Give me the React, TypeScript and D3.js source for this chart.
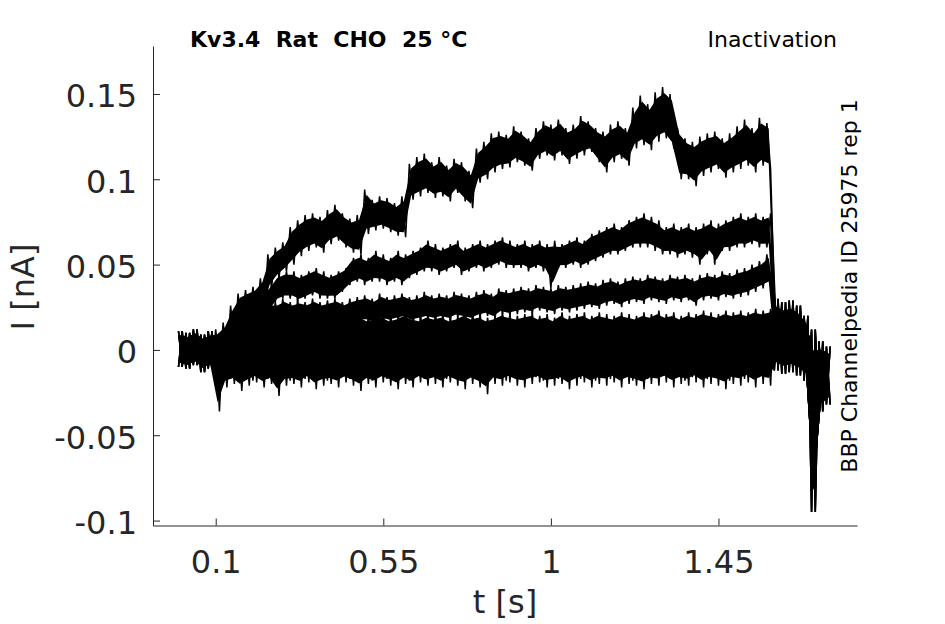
import { useEffect, useRef } from "react";
import * as d3 from "d3";

const binWidth = 0.02;
const preStart = 0;
const stepStart = 0.1;
const tailStart = 1.6;

const preHi = [0.011, 0.01, 0.012, 0.009, 0.011];
const preLo = [-0.01, -0.011, -0.009, -0.013, -0.011];

const traceAHi = [
  0.012, 0.016, 0.026, 0.033, 0.035, 0.037, 0.042, 0.056, 0.06, 0.063,
  0.072, 0.076, 0.079, 0.08, 0.078, 0.082, 0.085, 0.08, 0.077, 0.079,
  0.094, 0.088, 0.09, 0.089, 0.086, 0.09, 0.109, 0.113, 0.115, 0.11,
  0.113, 0.108, 0.112, 0.11, 0.105, 0.118, 0.122, 0.127, 0.128, 0.126,
  0.131, 0.128, 0.124, 0.13, 0.134, 0.132, 0.135, 0.13, 0.132, 0.137,
  0.134, 0.13, 0.128, 0.132, 0.134, 0.13, 0.142, 0.149, 0.144, 0.151,
  0.154, 0.15, 0.13, 0.124, 0.122, 0.125, 0.127, 0.128, 0.124, 0.127,
  0.131, 0.135, 0.13, 0.136, 0.133,
];
const traceALo = [
  -0.012, -0.006, 0.002, 0.013, 0.016, 0.018, 0.021, 0.036, 0.042, 0.046,
  0.05, 0.055, 0.058, 0.06, 0.057, 0.062, 0.064, 0.06, 0.057, 0.056,
  0.068, 0.07, 0.071, 0.069, 0.067, 0.066, 0.088, 0.09, 0.092, 0.089,
  0.09, 0.087, 0.092, 0.087, 0.083, 0.098, 0.1, 0.104, 0.106, 0.107,
  0.11, 0.108, 0.105, 0.112, 0.114, 0.111, 0.114, 0.109, 0.112, 0.114,
  0.116, 0.11, 0.104, 0.11, 0.112, 0.108, 0.118, 0.12, 0.117, 0.122,
  0.124, 0.118, 0.1, 0.1, 0.096, 0.102, 0.104, 0.106, 0.101, 0.104,
  0.106, 0.108, 0.104, 0.108, 0.106,
];

const traceBHi = [
  0.01, 0.012, 0.018, 0.024, 0.028, 0.03, 0.034, 0.038, 0.044, 0.046,
  0.046, 0.044, 0.046, 0.048, 0.046, 0.044, 0.046, 0.048, 0.054, 0.056,
  0.054, 0.058, 0.056, 0.054, 0.058, 0.056, 0.058, 0.06, 0.064, 0.062,
  0.06, 0.062, 0.064, 0.06, 0.062, 0.064, 0.062, 0.064, 0.066, 0.064,
  0.062, 0.064, 0.062, 0.064, 0.062, 0.064, 0.062, 0.064, 0.066, 0.064,
  0.068, 0.07, 0.072, 0.074, 0.072, 0.076, 0.078, 0.08, 0.078, 0.076,
  0.072, 0.074, 0.072, 0.074, 0.072, 0.074, 0.076, 0.074, 0.076, 0.078,
  0.08, 0.078, 0.08, 0.078, 0.08,
];
const traceBLo = [
  -0.012, -0.007, 0.0, 0.006, 0.01, 0.014, 0.018, 0.022, 0.028, 0.03,
  0.03, 0.028, 0.03, 0.032, 0.03, 0.03, 0.03, 0.034, 0.038, 0.04,
  0.038, 0.04, 0.04, 0.038, 0.04, 0.038, 0.042, 0.044, 0.046, 0.046,
  0.044, 0.046, 0.048, 0.044, 0.046, 0.048, 0.046, 0.048, 0.05, 0.048,
  0.048, 0.048, 0.046, 0.048, 0.046, 0.036, 0.048, 0.048, 0.05, 0.048,
  0.05, 0.052, 0.054, 0.056, 0.056, 0.058, 0.06, 0.06, 0.06, 0.058,
  0.056, 0.056, 0.054, 0.056, 0.054, 0.05, 0.056, 0.05, 0.058, 0.058,
  0.06, 0.06, 0.062, 0.06, 0.06,
];

const traceCHi = [
  0.008, 0.01, 0.014, 0.018, 0.022, 0.024, 0.026, 0.028, 0.028, 0.03,
  0.028, 0.029, 0.028, 0.03, 0.028, 0.029, 0.03, 0.028, 0.03, 0.031,
  0.032, 0.03, 0.033, 0.031, 0.032, 0.033, 0.031, 0.032, 0.034, 0.032,
  0.033, 0.032, 0.034, 0.033, 0.032, 0.034, 0.035, 0.033, 0.036, 0.035,
  0.036, 0.037, 0.036, 0.038, 0.037, 0.036, 0.038, 0.037, 0.038, 0.039,
  0.04, 0.039, 0.041, 0.042, 0.04, 0.042, 0.043, 0.042, 0.044, 0.043,
  0.042, 0.044, 0.043, 0.044, 0.042, 0.044, 0.045, 0.044, 0.046, 0.045,
  0.047, 0.048, 0.05, 0.052, 0.056,
];
const traceCLo = [
  -0.012, -0.008, -0.004, 0.0, 0.004, 0.006, 0.01, 0.012, 0.012, 0.014,
  0.012, 0.014, 0.013, 0.014, 0.012, 0.014, 0.015, 0.013, 0.014, 0.016,
  0.016, 0.015, 0.017, 0.016, 0.017, 0.018, 0.016, 0.017, 0.018, 0.017,
  0.018, 0.017, 0.019, 0.018, 0.017, 0.019, 0.02, 0.018, 0.021, 0.02,
  0.021, 0.022, 0.021, 0.023, 0.022, 0.021, 0.023, 0.022, 0.023, 0.024,
  0.025, 0.024, 0.026, 0.027, 0.025, 0.027, 0.028, 0.027, 0.029, 0.028,
  0.027, 0.029, 0.028, 0.029, 0.026, 0.029, 0.03, 0.029, 0.031, 0.03,
  0.031, 0.032, 0.034, 0.036, 0.038,
];

const traceDHi = [
  0.008, 0.01, 0.012, 0.014, 0.016, 0.017, 0.018, 0.019, 0.018, 0.02,
  0.019, 0.02, 0.018, 0.02, 0.021, 0.019, 0.02, 0.018, 0.02, 0.021,
  0.019, 0.02, 0.021, 0.019, 0.02, 0.022, 0.02, 0.019, 0.021, 0.02,
  0.021, 0.019, 0.02, 0.022, 0.02, 0.021, 0.019, 0.02, 0.022, 0.021,
  0.02, 0.021, 0.022, 0.02, 0.021, 0.019, 0.022, 0.02, 0.021, 0.022,
  0.02, 0.022, 0.021, 0.02, 0.022, 0.021, 0.02, 0.022, 0.021, 0.023,
  0.021, 0.022, 0.02, 0.022, 0.021, 0.023, 0.022, 0.021, 0.023, 0.022,
  0.023, 0.022, 0.024, 0.023, 0.024,
];
const traceDLo = [
  -0.014, -0.01, -0.008, -0.005, -0.003, -0.002, 0.0, 0.001, 0.0, 0.002,
  0.001, 0.002, 0.0, 0.002, 0.003, 0.001, 0.002, 0.0, 0.002, 0.003,
  0.001, 0.002, 0.003, 0.001, 0.002, 0.004, 0.002, 0.001, 0.003, 0.002,
  0.003, 0.001, 0.002, 0.004, 0.002, 0.003, 0.001, 0.002, 0.004, 0.003,
  0.002, 0.003, 0.004, 0.002, 0.003, 0.001, 0.004, 0.002, 0.003, 0.004,
  0.002, 0.004, 0.003, 0.002, 0.004, 0.003, 0.002, 0.004, 0.003, 0.005,
  0.003, 0.004, 0.002, 0.004, 0.003, 0.005, 0.004, 0.003, 0.005, 0.004,
  0.005, 0.004, 0.006, 0.005, 0.006,
];

const traceEHi = [
  0.008, 0.01, 0.009, 0.011, 0.01, 0.012, 0.01, 0.011, 0.009, 0.012,
  0.01, 0.011, 0.012, 0.01, 0.011, 0.009, 0.012, 0.01, 0.011, 0.012,
  0.01, 0.012, 0.011, 0.013, 0.01, 0.012, 0.011, 0.012, 0.01, 0.013,
  0.011, 0.012, 0.01, 0.013, 0.012, 0.011, 0.013, 0.012, 0.011, 0.013,
  0.012, 0.013, 0.011, 0.012, 0.014, 0.012, 0.013, 0.011, 0.014, 0.012,
  0.013, 0.012, 0.014, 0.013, 0.012, 0.014, 0.013, 0.015, 0.012, 0.014,
  0.013, 0.015, 0.014, 0.013, 0.015, 0.014, 0.016, 0.014, 0.015, 0.016,
  0.015, 0.017, 0.016, 0.018, 0.017,
];
const traceELo = [
  -0.036, -0.022, -0.02, -0.024, -0.021, -0.019, -0.022, -0.02, -0.027, -0.021,
  -0.02, -0.022, -0.019, -0.023, -0.021, -0.02, -0.022, -0.019, -0.021, -0.024,
  -0.02, -0.022, -0.019, -0.021, -0.023, -0.02, -0.022, -0.019, -0.021, -0.02,
  -0.022, -0.019, -0.021, -0.023, -0.02, -0.022, -0.026, -0.02, -0.021, -0.019,
  -0.021, -0.022, -0.02, -0.019, -0.022, -0.021, -0.02, -0.023, -0.021, -0.019,
  -0.022, -0.02, -0.021, -0.019, -0.022, -0.02, -0.021, -0.023, -0.02, -0.021,
  -0.019, -0.022, -0.02, -0.021, -0.019, -0.022, -0.02, -0.021, -0.023, -0.02,
  -0.021, -0.019, -0.022, -0.02, -0.021,
];

const traceFHi = [
  0.006, 0.004, 0.007, 0.005, 0.006, 0.004, 0.007, 0.005, 0.006, 0.004,
  0.007, 0.005, 0.006, 0.008, 0.005, 0.006, 0.004, 0.007, 0.005, 0.006,
  0.008, 0.005, 0.007, 0.006, 0.004, 0.007, 0.006, 0.008, 0.005, 0.007,
  0.006, 0.008, 0.005, 0.007, 0.006, 0.008, 0.007, 0.005, 0.008, 0.006,
  0.007, 0.009, 0.006, 0.008, 0.007, 0.005, 0.008, 0.007, 0.009, 0.006,
  0.008, 0.007, 0.009, 0.006, 0.008, 0.01, 0.007, 0.009, 0.008, 0.01,
  0.009, 0.007, 0.01, 0.008, 0.011, 0.009, 0.01, 0.012, 0.009, 0.011,
  0.012, 0.01, 0.013, 0.011, 0.014,
];
const traceFLo = [
  -0.018, -0.015, -0.017, -0.014, -0.016, -0.018, -0.015, -0.017, -0.014, -0.016,
  -0.018, -0.015, -0.017, -0.016, -0.014, -0.018, -0.016, -0.015, -0.017, -0.014,
  -0.016, -0.018, -0.015, -0.017, -0.014, -0.016, -0.018, -0.015, -0.017, -0.016,
  -0.014, -0.017, -0.015, -0.018, -0.016, -0.014, -0.017, -0.015, -0.016, -0.018,
  -0.015, -0.017, -0.014, -0.016, -0.018, -0.015, -0.017, -0.016, -0.014, -0.017,
  -0.016, -0.018, -0.015, -0.017, -0.014, -0.016, -0.018, -0.015, -0.017, -0.016,
  -0.014, -0.017, -0.015, -0.018, -0.016, -0.014, -0.017, -0.015, -0.016, -0.018,
  -0.015, -0.017, -0.014, -0.016, -0.015,
];

const tailHi = [0.03, 0.028, 0.029, 0.026, 0.02, 0.012, 0.005, 0.002];
const tailLo = [-0.012, -0.014, -0.013, -0.015, -0.018, -0.095, -0.036, -0.032];

const traces = [
  { hi: traceAHi, lo: traceALo },
  { hi: traceBHi, lo: traceBLo },
  { hi: traceCHi, lo: traceCLo },
  { hi: traceDHi, lo: traceDLo },
  { hi: traceEHi, lo: traceELo },
  { hi: traceFHi, lo: traceFLo },
];

const xTicks = [0.1, 0.55, 1, 1.45];
const xTickLabels = ["0.1", "0.55", "1", "1.45"];
const yTicks = [-0.1, -0.05, 0, 0.05, 0.1, 0.15];
const yTickLabels = ["-0.1", "-0.05", "0", "0.05", "0.1", "0.15"];

const font = "DejaVu Sans";
const gray = "#262626";
const coreInset = 0.12; // share of each bin's range left to the spikes

interface Bin {
  t: number;
  hi: number;
  lo: number;
}

function toBins(hi: number[], lo: number[], t0: number): Bin[] {
  return hi.map((h, i) => ({ t: t0 + i * binWidth, hi: h, lo: lo[i] }));
}

export default function App() {
  const ref = useRef<SVGSVGElement | null>(null);

  useEffect(() => {
    const width = 945;
    const height = 624;
    const svg = d3.select(ref.current).attr("width", width).attr("height", height);
    svg.selectAll("*").remove();

    const x = d3.scaleLinear().domain([-0.0684, 1.822]).range([153, 857]);
    const y = d3.scaleLinear().domain([-0.1029, 0.1781]).range([525.5, 46]);

    const line = d3
      .line<[number, number]>()
      .x((d) => x(d[0]))
      .y((d) => y(d[1]));

    const core = d3
      .area<Bin>()
      .x((d) => x(d.t + binWidth / 4))
      .y0((d) => y(d.lo + (d.hi - d.lo) * coreInset))
      .y1((d) => y(d.hi - (d.hi - d.lo) * coreInset));

    traces.forEach((tr, k) => {
      const bins = [
        ...toBins(preHi, preLo, preStart),
        ...toBins(tr.hi, tr.lo, stepStart),
        ...toBins(tailHi, tailLo, tailStart),
      ];
      const phase = k % 2;
      const pts: [number, number][] = [];
      bins.forEach((b) => {
        pts.push([b.t, phase ? b.lo : b.hi], [b.t + binWidth / 2, phase ? b.hi : b.lo]);
      });

      svg.append("path").attr("d", core(bins)).attr("fill", "#000");
      svg
        .append("path")
        .attr("d", line(pts))
        .attr("fill", "none")
        .attr("stroke", "#000")
        .attr("stroke-width", 1.5);
    });

    const xAxis = svg
      .append("g")
      .attr("transform", "translate(0,525.5)")
      .call(
        d3
          .axisBottom(x)
          .tickValues(xTicks)
          .tickFormat((_, i) => xTickLabels[i])
          .tickSizeInner(-7)
          .tickSizeOuter(0)
          .tickPadding(24.5)
      );

    const yAxis = svg
      .append("g")
      .attr("transform", "translate(153,0)")
      .call(
        d3
          .axisLeft(y)
          .tickValues(yTicks)
          .tickFormat((_, i) => yTickLabels[i])
          .tickSizeInner(-7)
          .tickSizeOuter(0)
          .tickPadding(16)
      );

    [xAxis, yAxis].forEach((g) => {
      g.attr("font-family", font).attr("font-size", 32);
      g.selectAll("path, line").attr("stroke", gray);
      g.selectAll("text").attr("fill", gray);
    });
    yAxis.selectAll("text").attr("dy", "0.4em");

    svg
      .append("text")
      .attr("x", 505)
      .attr("y", 613)
      .attr("text-anchor", "middle")
      .attr("font-family", font)
      .attr("font-size", 32)
      .attr("fill", gray)
      .text("t [s]");

    svg
      .append("text")
      .attr("transform", "translate(33.5,287) rotate(-90)")
      .attr("text-anchor", "middle")
      .attr("font-family", font)
      .attr("font-size", 32)
      .attr("fill", gray)
      .text("I [nA]");

    svg
      .append("text")
      .attr("x", 190)
      .attr("y", 47)
      .attr("font-family", font)
      .attr("font-size", 22)
      .attr("font-weight", "bold")
      .style("white-space", "pre")
      .text("Kv3.4  Rat  CHO  25 °C");

    svg
      .append("text")
      .attr("x", 837)
      .attr("y", 47)
      .attr("text-anchor", "end")
      .attr("font-family", font)
      .attr("font-size", 22)
      .text("Inactivation");

    svg
      .append("text")
      .attr("transform", "translate(857,286) rotate(-90)")
      .attr("text-anchor", "middle")
      .attr("font-family", font)
      .attr("font-size", 22)
      .text("BBP Channelpedia ID 25975 rep 1");
  }, []);

  return <svg ref={ref} style={{ position: "absolute", left: 0, top: 0, background: "#fff" }} />;
}
